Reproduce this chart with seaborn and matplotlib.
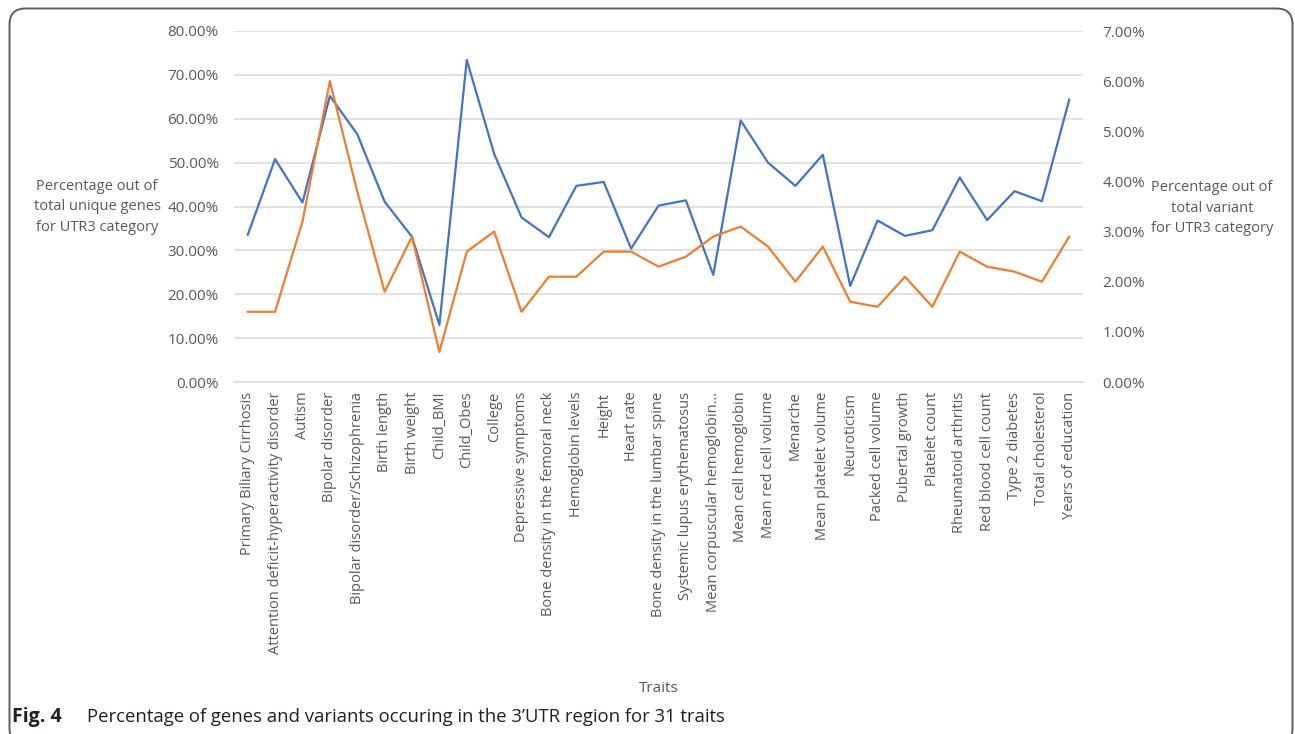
import numpy as np
import pandas as pd
import seaborn as sns
import matplotlib.pyplot as plt
from matplotlib.patches import FancyBboxPatch
from matplotlib.transforms import IdentityTransform
from matplotlib.ticker import PercentFormatter, MultipleLocator

traits = [
    "Primary Biliary Cirrhosis",
    "Attention deficit-hyperactivity disorder",
    "Autism",
    "Bipolar disorder",
    "Bipolar disorder/Schizophrenia",
    "Birth length",
    "Birth weight",
    "Child_BMI",
    "Child_Obes",
    "College",
    "Depressive symptoms",
    "Bone density in the femoral neck",
    "Hemoglobin levels",
    "Height",
    "Heart rate",
    "Bone density in the lumbar spine",
    "Systemic lupus erythematosus",
    "Mean corpuscular hemoglobin\u2026",
    "Mean cell hemoglobin",
    "Mean red cell volume",
    "Menarche",
    "Mean platelet volume",
    "Neuroticism",
    "Packed cell volume",
    "Pubertal growth",
    "Platelet count",
    "Rheumatoid arthritis",
    "Red blood cell count",
    "Type 2 diabetes",
    "Total cholesterol",
    "Years of education",
]

# % of unique genes (left axis)
genes_pct = [33.5, 50.8, 40.9, 65.2, 56.5, 41.1, 33.1, 13.0, 73.4, 52.0,
             37.5, 33.0, 44.7, 45.6, 30.4, 40.2, 41.4, 24.4, 59.6, 50.0,
             44.7, 51.8, 21.9, 36.8, 33.3, 34.6, 46.6, 36.9, 43.5, 41.2,
             64.4]

# % of total variants (right axis)
variants_pct = [1.4, 1.4, 3.2, 6.0, 3.8, 1.8, 2.9, 0.6, 2.6, 3.0,
                1.4, 2.1, 2.1, 2.6, 2.6, 2.3, 2.5, 2.9, 3.1, 2.7,
                2.0, 2.7, 1.6, 1.5, 2.1, 1.5, 2.6, 2.3, 2.2, 2.0,
                2.9]

df = pd.DataFrame({"Trait": traits, "genes": genes_pct, "variants": variants_pct})

sns.set_style("white")
plt.rcParams["font.family"] = ["Open Sans", "DejaVu Sans"]

TXT = "#595959"
GRID = "#D9D9D9"
BLUE = "#4472C4"
ORANGE = "#ED7D31"

W, H = 1295, 734
fig = plt.figure(figsize=(W / 100, H / 100), dpi=100)

# outer frame with rounded corners (pixel coordinates)
frame = FancyBboxPatch((9.5, -10), 1283, 735.5,
                       boxstyle="round,pad=0,rounding_size=16",
                       transform=IdentityTransform(), fill=False,
                       edgecolor="#5E5E5E", linewidth=1.4)
fig.patches.append(frame)

ax = fig.add_axes([234 / W, 1 - 382 / H, 849 / W, 351 / H])

sns.lineplot(data=df, x="Trait", y="genes", ax=ax, color=BLUE,
             linewidth=1.6, sort=False)
ax2 = ax.twinx()
sns.lineplot(data=df, x="Trait", y="variants", ax=ax2, color=ORANGE,
             linewidth=1.6, sort=False)

ax.set_xlim(-0.5, len(traits) - 0.5)
ax.set_ylim(0, 80)
ax2.set_ylim(0, 7)
ax.yaxis.set_major_locator(MultipleLocator(10))
ax2.yaxis.set_major_locator(MultipleLocator(1))
ax.yaxis.set_major_formatter(PercentFormatter(decimals=2))
ax2.yaxis.set_major_formatter(PercentFormatter(decimals=2))

ax.grid(axis="y", color=GRID, linewidth=1.1)
ax.grid(axis="x", visible=False)
ax2.grid(False)
ax.set_axisbelow(True)

for a in (ax, ax2):
    for s in a.spines.values():
        s.set_visible(False)
ax.spines["bottom"].set_visible(True)
ax.spines["bottom"].set_color(GRID)
ax.spines["bottom"].set_linewidth(1.1)

ax.set_xticks(range(len(traits)))
ax.set_xticklabels(traits, rotation=90, fontsize=10.5, color=TXT)
ax.tick_params(axis="x", length=0, pad=7)
ax.tick_params(axis="y", length=0, pad=11, labelsize=11, labelcolor=TXT)
ax2.tick_params(axis="y", length=0, pad=14, labelsize=11, labelcolor=TXT)

ax.set_ylabel("Percentage out of\ntotal unique genes\nfor UTR3 category",
              rotation=0, ha="center", va="center", fontsize=10.5,
              color=TXT, linespacing=1.5)
ax.yaxis.set_label_coords((97 - 234) / 849, (382 - 207) / 351)
ax2.set_ylabel("Percentage out of\ntotal variant\nfor UTR3 category",
               rotation=0, ha="center", va="center", fontsize=10.5,
               color=TXT, linespacing=1.5)
ax2.yaxis.set_label_coords((1212 - 234) / 849, (382 - 208) / 351)

ax.set_xlabel("Traits", fontsize=11, color=TXT, va="center")
ax.xaxis.set_label_coords(0.5, (382 - 688) / 351)

# caption
fig.text(12 / W, 1 - 717 / H, "Fig. 4", fontsize=14, fontweight="bold",
         color="#231F20", va="center", ha="left")
fig.text(87 / W, 1 - 717 / H,
         "Percentage of genes and variants occuring in the 3\u2019UTR region for 31 traits",
         fontsize=13.3, color="#231F20", va="center", ha="left")

fig.savefig("out.png", dpi=100)
